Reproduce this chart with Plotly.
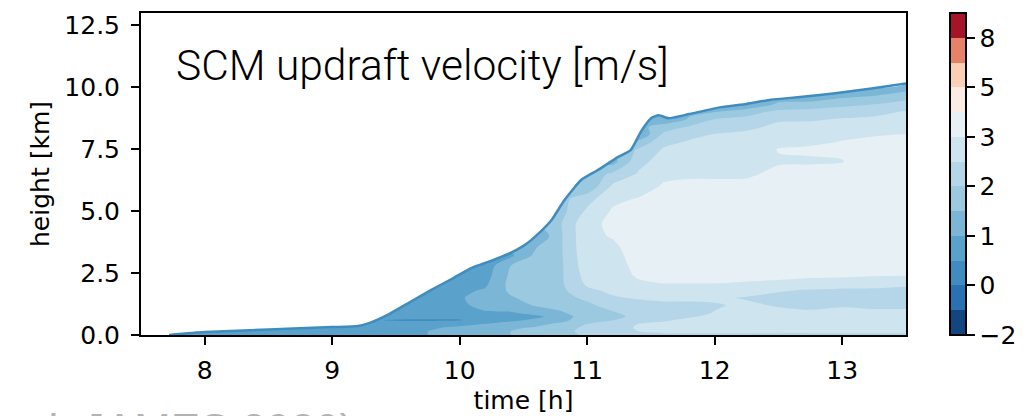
import numpy as np
import plotly.graph_objects as go
from plotly.colors import diverging, unlabel_rgb

# --- axes of the SCM output -------------------------------------------------
time_h = [7.7, 8.0, 8.5, 9.0, 9.2, 9.4, 9.6, 9.8, 10.0, 10.2, 10.4, 10.6, 10.8,
          11.0, 11.2, 11.4, 11.6, 11.8, 12.0, 12.25, 12.5, 12.75, 13.0, 13.25, 13.5]
height_km = [0, 0.15, 0.3, 0.45, 0.6, 0.75, 0.9, 1.2, 1.5, 1.8, 2.1, 2.4, 2.8,
             3.2, 3.6, 4.0, 4.5, 5.0, 5.5, 6.0, 6.5, 7.0, 7.5, 7.8, 8.1, 8.4,
             8.7, 9.0, 9.3, 9.6, 9.9, 10.2]

# updraft velocity [m/s], one vertical profile per output time (bottom -> cloud top)
w_profiles = [
    [0.75],
    [0.75],
    [0.75, 0.75],
    [0.75, 0.75, 0.7],
    [0.78, 0.75, 0.7],
    [0.8, 0.8, 0.75, 0.7, 0.5, 0.6],
    [0.85, 0.85, 0.8, 0.7, 0.44, 0.7, 0.75, 0.7],
    [1.05, 1.05, 0.95, 0.72, 0.44, 0.72, 0.8, 0.8, 0.8, 0.7],
    [1.2, 1.2, 1.1, 0.8, 0.46, 0.72, 0.85, 0.9, 0.95, 0.9, 0.8, 0.7],
    [1.3, 1.3, 1.2, 1.0, 0.8, 0.85, 0.95, 1.15, 1.2, 1.05, 0.9, 0.8, 0.7],
    [1.5, 1.5, 1.4, 1.2, 0.9, 0.8, 0.95, 1.3, 1.45, 1.6, 1.65, 1.6, 1.5, 0.9],
    [1.6, 1.65, 1.55, 1.35, 1.1, 0.9, 1.2, 1.55, 1.7, 1.75, 1.8, 1.8, 1.75,
     1.65, 1.45, 1.0],
    [1.8, 1.85, 1.8, 1.6, 1.35, 1.25, 1.45, 1.7, 1.85, 1.9, 1.95, 1.95, 1.95,
     1.97, 1.98, 1.97, 2.0, 1.85],
    [2.1, 2.15, 2.1, 2.0, 1.85, 1.8, 1.85, 1.9, 2.1, 2.4, 2.6, 2.7, 2.8, 2.85,
     2.9, 2.92, 2.9, 2.6, 2.3, 1.6],
    [2.3, 2.35, 2.3, 2.2, 2.0, 1.8, 1.95, 2.2, 2.45, 2.6, 2.75, 2.8, 2.85, 2.9,
     2.95, 3.05, 3.15, 3.1, 2.9, 2.6, 2.1, 1.3],
    [2.4, 2.5, 2.55, 2.5, 2.35, 2.2, 2.2, 2.3, 2.55, 2.75, 2.95, 3.1, 3.2, 3.25,
     3.3, 3.3, 3.3, 3.2, 3.05, 2.8, 2.55, 2.35, 2.05, 1.6, 1.0],
    [2.4, 2.6, 2.65, 2.6, 2.45, 2.35, 2.35, 2.4, 2.6, 2.85, 3.02, 3.15, 3.3,
     3.35, 3.4, 3.4, 3.4, 3.35, 3.25, 3.1, 2.9, 2.7, 2.55, 2.35, 2.1, 1.75, 1.1],
    [2.4, 2.65, 2.7, 2.7, 2.6, 2.45, 2.35, 2.4, 2.6, 2.85, 3.02, 3.15, 3.3, 3.4,
     3.45, 3.45, 3.45, 3.4, 3.3, 3.15, 2.95, 2.8, 2.65, 2.55, 2.35, 2.05, 1.55],
    [2.4, 2.65, 2.75, 2.75, 2.7, 2.6, 2.52, 2.45, 2.6, 2.85, 3.02, 3.15, 3.3,
     3.4, 3.5, 3.5, 3.5, 3.45, 3.35, 3.15, 2.95, 2.85, 2.75, 2.65, 2.52, 2.3,
     2.02, 1.5],
    [2.4, 2.65, 2.75, 2.8, 2.8, 2.75, 2.7, 2.6, 2.45, 2.8, 2.98, 3.15, 3.3, 3.4,
     3.5, 3.5, 3.5, 3.45, 3.35, 3.2, 2.95, 2.9, 2.8, 2.7, 2.6, 2.4, 2.15, 1.8,
     1.1],
    [2.4, 2.6, 2.75, 2.8, 2.8, 2.75, 2.65, 2.45, 2.35, 2.55, 2.95, 3.15, 3.3,
     3.45, 3.5, 3.5, 3.5, 3.5, 3.4, 3.3, 3.15, 2.97, 3.03, 2.9, 2.75, 2.6, 2.45,
     2.15, 1.6],
    [2.4, 2.6, 2.75, 2.8, 2.8, 2.75, 2.6, 2.35, 2.3, 2.45, 2.9, 3.1, 3.3, 3.45,
     3.5, 3.55, 3.55, 3.5, 3.45, 3.35, 3.2, 2.97, 3.08, 2.95, 2.8, 2.65, 2.45,
     2.15, 1.8, 1.1],
    [2.4, 2.6, 2.75, 2.8, 2.8, 2.75, 2.65, 2.45, 2.3, 2.4, 2.85, 3.1, 3.3, 3.45,
     3.5, 3.55, 3.55, 3.55, 3.5, 3.4, 3.25, 2.99, 3.1, 3.02, 2.95, 2.75, 2.55,
     2.25, 1.9, 1.45],
    [2.4, 2.6, 2.75, 2.8, 2.8, 2.75, 2.6, 2.4, 2.3, 2.4, 2.75, 3.05, 3.3, 3.45,
     3.5, 3.55, 3.55, 3.55, 3.5, 3.45, 3.35, 3.2, 3.2, 3.1, 2.98, 2.8, 2.6, 2.35,
     2.02, 1.6, 1.1],
    [2.4, 2.6, 2.75, 2.8, 2.8, 2.75, 2.6, 2.4, 2.3, 2.35, 2.65, 3.02, 3.25, 3.4,
     3.5, 3.55, 3.55, 3.55, 3.5, 3.45, 3.35, 3.25, 3.2, 3.1, 3.01, 2.85, 2.7,
     2.55, 2.2, 1.85, 1.4],
]

# diagnosed cloud top (edge of the updraft region)
cloud_top_time = [7.72, 8.0, 8.5, 9.0, 9.2, 9.3, 9.43, 9.6, 9.77, 9.95, 10.09,
                  10.25, 10.38, 10.5, 10.56, 10.64, 10.72, 10.82, 10.95, 11.08,
                  11.24, 11.34, 11.42, 11.5, 11.56, 11.64, 11.8, 12.05, 12.25,
                  12.44, 12.65, 12.84, 13.05, 13.23, 13.5]
cloud_top_km = [0.0, 0.12, 0.22, 0.32, 0.36, 0.5, 0.8, 1.3, 1.8, 2.3, 2.7,
                3.0, 3.27, 3.6, 3.83, 4.2, 4.64, 5.44, 6.25, 6.65,
                7.18, 7.46, 8.2, 8.75, 8.87, 8.75, 8.92, 9.2, 9.33,
                9.5, 9.6, 9.7, 9.83, 9.95, 10.15]

# contour levels [m/s] and colorbar ticks
levels = [-2, -1, 0, 0.5, 1, 1.5, 2, 2.5, 3, 4, 5, 6, 8, 10]
cbar_ticks = [-2, 0, 1, 2, 3, 5, 8]
x_ticks = [8, 9, 10, 11, 12, 13]
y_ticks = [0.0, 2.5, 5.0, 7.5, 10.0, 12.5]
x_range = [7.5, 13.5]
y_range = [0, 13]


def rdbu_r(p):
    """Colour from the reversed ColorBrewer RdBu ramp at fraction p."""
    cols = [np.array(unlabel_rgb(c), dtype=float) for c in diverging.RdBu_r]
    pos = float(np.clip(p, 0, 1)) * (len(cols) - 1)
    i = min(int(pos), len(cols) - 2)
    f = pos - i
    c = cols[i] * (1 - f) + cols[i + 1] * f
    return "rgb(%d,%d,%d)" % tuple(np.round(c))


lev = np.array(levels, dtype=float)
mids = 0.5 * (lev[:-1] + lev[1:])
band_colors = [rdbu_r((m - lev[0]) / (lev[-1] - lev[0])) for m in mids]
n_bands = len(band_colors)

# uneven levels -> level index, so every band gets the same colorbar height
nh = len(height_km)
z = np.array([p + [None] * (nh - len(p)) for p in w_profiles], dtype=float).T
z_idx = np.interp(np.nan_to_num(z, nan=0.0), lev, np.arange(len(lev)))
z_idx = np.where(np.isnan(z), np.nan, z_idx)
z_list = [[None if np.isnan(v) else float(v) for v in row] for row in z_idx]

# contour fill colours: band k sits at k/(n_bands-1) of the scale
contour_scale = [[k / (n_bands - 1), band_colors[k]] for k in range(n_bands)]
# stepped scale for the colorbar (one equal-height block per band)
bar_scale = []
for k, c in enumerate(band_colors):
    bar_scale += [[k / n_bands, c], [(k + 1) / n_bands, c]]

tick_font = dict(family="DejaVu Sans", size=25, color="black")

fig = go.Figure()
fig.add_trace(go.Contour(
    x=time_h, y=height_km, z=z_list,
    connectgaps=True,
    autocontour=False,
    contours=dict(start=1, end=len(lev) - 2, size=1, coloring="fill",
                  showlines=False),
    line=dict(width=0, smoothing=0.8),
    colorscale=contour_scale,
    showscale=False,
    hoverinfo="skip",
))

# mask above the cloud top
fig.add_trace(go.Scatter(
    x=[x_range[0]] + cloud_top_time + [x_range[1], x_range[1], x_range[0]],
    y=[y_range[0]] + cloud_top_km + [y_range[1] + 1, y_range[1] + 1, y_range[1] + 1],
    fill="toself", fillcolor="white", mode="lines",
    line=dict(width=0, color="white", shape="spline", smoothing=0.5),
    hoverinfo="skip", showlegend=False,
))
# cloud-top edge
fig.add_trace(go.Scatter(
    x=cloud_top_time, y=cloud_top_km, mode="lines",
    line=dict(width=2.5, color=band_colors[2], shape="spline", smoothing=0.5),
    hoverinfo="skip", showlegend=False,
))

# colorbar carrier (no visible points)
fig.add_trace(go.Scatter(
    x=[None, None], y=[None, None], mode="markers", hoverinfo="skip",
    showlegend=False,
    marker=dict(
        color=[0, n_bands], cmin=0, cmax=n_bands, colorscale=bar_scale,
        showscale=True,
        colorbar=dict(
            tickvals=[levels.index(t) for t in cbar_ticks],
            ticktext=[str(t).replace("-", "\u2212") for t in cbar_ticks],
            ticks="outside", ticklen=8, tickwidth=1.5, tickcolor="black",
            outlinewidth=2, outlinecolor="black",
            thickness=16, len=1, lenmode="fraction", y=0.5, yanchor="middle",
            ypad=0, xpad=0, x=(950 - 141) / 765, xanchor="left",
            tickfont=tick_font,
        ),
    ),
))

axis_common = dict(
    showline=True, linewidth=2, linecolor="black", mirror=True,
    ticks="outside", ticklen=8, tickwidth=1.5, tickcolor="black",
    showgrid=False, zeroline=False, tickfont=tick_font, automargin=False,
)
fig.update_xaxes(range=x_range, tickvals=x_ticks, ticklabelstandoff=4,
                 title=dict(text="time [h]", font=tick_font, standoff=7),
                 **axis_common)
fig.update_yaxes(range=y_range, tickvals=y_ticks,
                 ticktext=["%.1f" % v for v in y_ticks], ticklabelstandoff=6,
                 title=dict(text="height [km]", font=tick_font, standoff=8),
                 **axis_common)

fig.add_annotation(
    text="SCM updraft velocity [m/s]", xref="paper", yref="paper",
    x=(174 - 141) / 765, y=(335 - 65) / 322, xanchor="left", yanchor="middle",
    showarrow=False,
    font=dict(family="Roboto", size=42.5, color="black", weight=300),
)
fig.add_annotation(
    text="al. JAMES 2020)", xref="paper", yref="paper",
    x=(22 - 141) / 765, y=(335 - 429) / 322, xanchor="left", yanchor="middle",
    showarrow=False,
    font=dict(family="Liberation Sans", size=44, color="#b3b3b3"),
)

fig.update_layout(
    width=1034, height=416,
    margin=dict(l=141, r=128, t=13, b=81, autoexpand=False),
    paper_bgcolor="white", plot_bgcolor="white",
    showlegend=False,
)

fig.write_html("out.html")
